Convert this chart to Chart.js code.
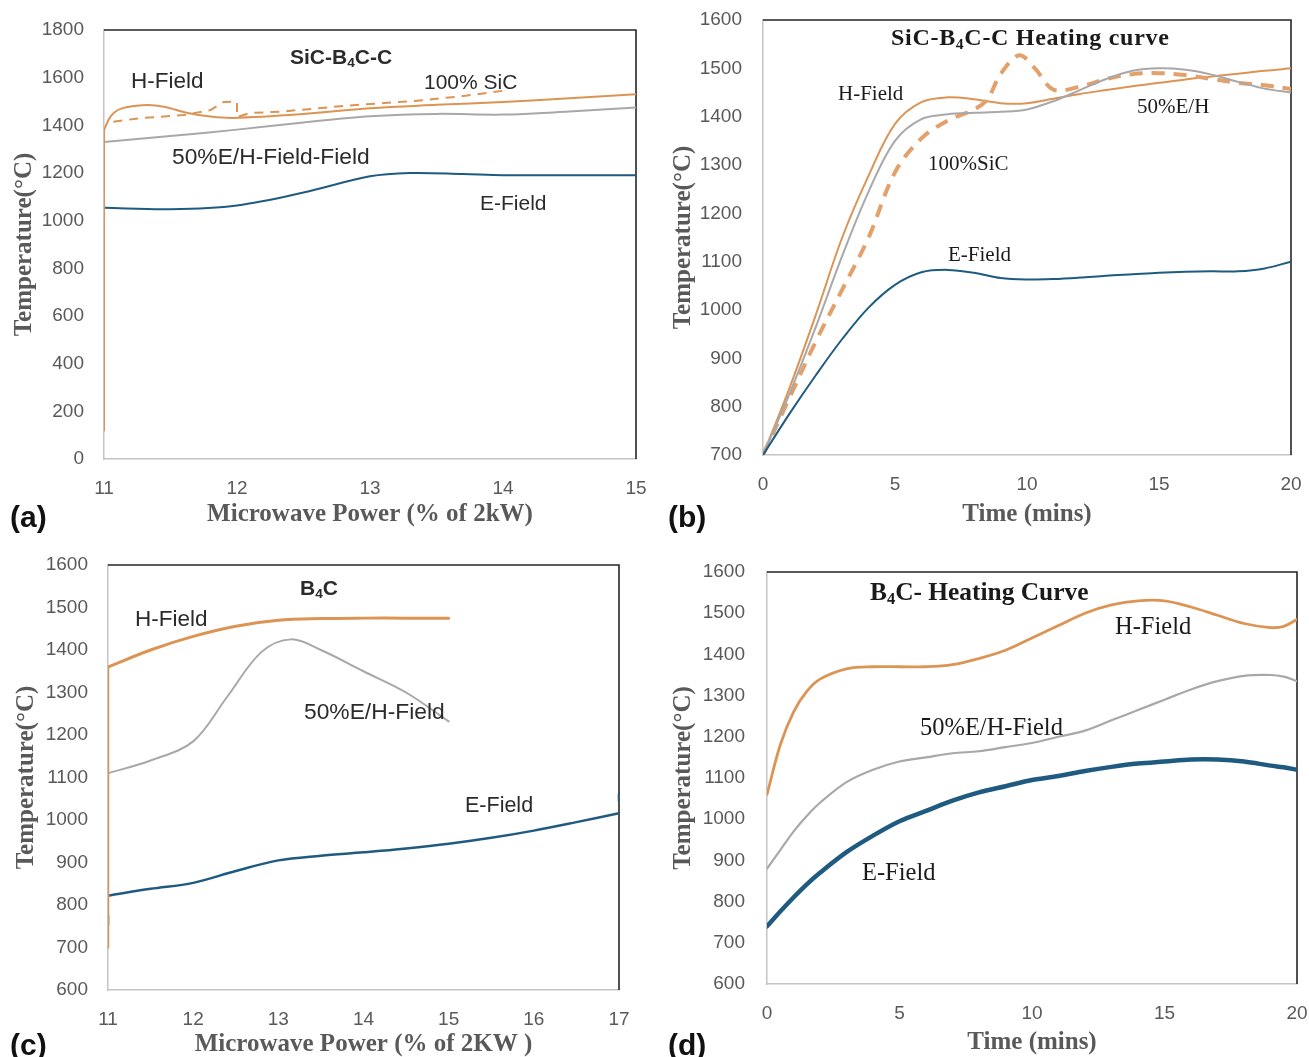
<!DOCTYPE html>
<html><head><meta charset="utf-8">
<script src="https://cdn.jsdelivr.net/npm/chart.js@4.4.1/dist/chart.umd.min.js"></script>
<style>
html,body{margin:0;padding:0;background:#fff}
body{width:1309px;height:1057px;position:relative;overflow:hidden}
canvas{position:absolute}
.t{position:absolute;white-space:nowrap;line-height:1;color:#2b2b2b}
.sans{font-family:"Liberation Sans",Arial,sans-serif;font-size:21px}
.serif{font-family:"Liberation Serif","Times New Roman",serif;font-size:21px;color:#1a1a1a}
.b{font-weight:bold}
.pl{position:absolute;line-height:1;font-family:"Liberation Sans",Arial,sans-serif;font-weight:bold;font-size:30px;color:#111}
sub{font-size:65%;vertical-align:-0.25em;line-height:0}
</style></head><body>
<canvas id="ca" width="655" height="530" style="left:0;top:0;width:655px;height:530px"></canvas>
<canvas id="cb" width="654" height="530" style="left:655px;top:0;width:654px;height:530px"></canvas>
<canvas id="cc" width="655" height="527" style="left:0;top:530px;width:655px;height:527px"></canvas>
<canvas id="cd" width="654" height="527" style="left:655px;top:530px;width:654px;height:527px"></canvas>

<div class="t sans b" style="left:290px;top:46px">SiC-B<sub>4</sub>C-C</div>
<div class="t sans" style="left:131px;top:70px;font-size:22.5px">H-Field</div>
<div class="t sans" style="left:424px;top:71px">100% SiC</div>
<div class="t sans" style="left:172px;top:145px;font-size:22.8px">50%E/H-Field-Field</div>
<div class="t sans" style="left:480px;top:192px">E-Field</div>
<div class="pl" style="left:10px;top:502px">(a)</div>

<div class="t serif b" style="left:891px;top:25px;font-size:24px;letter-spacing:0.7px">SiC-B<sub>4</sub>C-C Heating curve</div>
<div class="t serif" style="left:838px;top:83px">H-Field</div>
<div class="t serif" style="left:928px;top:153px">100%SiC</div>
<div class="t serif" style="left:1137px;top:96px">50%E/H</div>
<div class="t serif" style="left:948px;top:244px">E-Field</div>
<div class="pl" style="left:668px;top:502px">(b)</div>

<div class="t sans b" style="left:300px;top:577px">B<sub>4</sub>C</div>
<div class="t sans" style="left:135px;top:608px;font-size:22.5px">H-Field</div>
<div class="t sans" style="left:304px;top:700px;font-size:22.8px">50%E/H-Field</div>
<div class="t sans" style="left:465px;top:795px;font-size:21.5px">E-Field</div>
<div class="pl" style="left:10px;top:1030px">(c)</div>

<div class="t serif b" style="left:870px;top:579px;font-size:25.4px">B<sub>4</sub>C- Heating Curve</div>
<div class="t serif" style="left:1115px;top:614px;font-size:24.5px">H-Field</div>
<div class="t serif" style="left:920px;top:715px;font-size:24.5px">50%E/H-Field</div>
<div class="t serif" style="left:862px;top:860px;font-size:24.5px">E-Field</div>
<div class="pl" style="left:668px;top:1030px">(d)</div>

<script>
// ---------------- DATA ----------------
// (a) SiC-B4C-C vs microwave power (% of 2kW)
const aHRiseX = [11, 11];
const aHRiseY = [120, 1380];
const aHFieldX = [11, 11.05, 11.13, 11.32, 11.45, 11.63, 11.8, 11.97, 12.47, 13, 13.5, 14, 14.5, 15];
const aHFieldY = [1380, 1438, 1470, 1485, 1478, 1452, 1437, 1431, 1446, 1472, 1486, 1498, 1514, 1530];
const aSiCX = [11.07, 11.27, 11.6, 11.8, 11.9, 11.97, 12.0, 12.0, 12.1, 12.32, 12.82, 13.4, 13.73, 14.0];
const aSiCY = [1415, 1430, 1443, 1464, 1498, 1499, 1499, 1435, 1452, 1457, 1482, 1505, 1525, 1545];
const aMixX = [11, 11.5, 12, 12.5, 13, 13.5, 14, 14.5, 15];
const aMixY = [1330, 1355, 1382, 1412, 1438, 1448, 1445, 1458, 1475];
const aERiseX = [11, 11];
const aERiseY = [690, 1054];
const aEFieldX = [11, 11.5, 12, 12.5, 13, 13.3, 13.7, 14, 15];
const aEFieldY = [1054, 1048, 1064, 1118, 1186, 1200, 1196, 1191, 1191];

// (b) SiC-B4C-C heating curve, time (mins)
const bTime = [0, 1, 2, 3, 4, 5, 6, 7, 8, 9, 10, 11, 12, 13, 14, 15, 16, 17, 18, 19, 20];
const bHField = [700, 838, 990, 1150, 1278, 1385, 1430, 1440, 1436, 1428, 1428, 1437, 1447, 1455, 1463, 1470, 1477, 1483, 1489, 1495, 1500];
const bMix = [700, 826, 965, 1112, 1245, 1350, 1395, 1405, 1408, 1410, 1415, 1432, 1455, 1478, 1495, 1500, 1497, 1487, 1472, 1458, 1450];
const bEField = [700, 785, 865, 940, 1005, 1052, 1078, 1083, 1077, 1066, 1063, 1064, 1067, 1071, 1074, 1077, 1079, 1080, 1080, 1086, 1100];
const bSiCTime = [0, 1, 2, 3, 4, 5, 6, 7, 8, 8.5, 9, 9.7, 10.3, 11, 12, 13, 14, 15, 16, 17, 18, 19, 20];
const bSiC = [700, 818, 935, 1042, 1150, 1285, 1355, 1392, 1415, 1436, 1488, 1527, 1500, 1456, 1462, 1478, 1488, 1490, 1486, 1478, 1470, 1465, 1457];

// (c) B4C vs microwave power (% of 2KW)
const cHRiseX = [11, 11];
const cHRiseY = [700, 1360];
const cHFieldX = [11, 11.5, 12, 12.5, 13, 13.5, 14, 14.5, 15];
const cHFieldY = [1360, 1400, 1432, 1456, 1470, 1474, 1475, 1475, 1475];
const cMixX = [11, 11.5, 12, 12.4, 12.8, 13.15, 13.5, 14, 14.5, 15];
const cMixY = [1110, 1140, 1185, 1290, 1395, 1425, 1400, 1350, 1300, 1232];
const cETailX = [11, 11];
const cETailY = [755, 775];
const cEFieldX = [11, 11.5, 12, 12.5, 13, 13.5, 14, 14.5, 15, 15.5, 16, 16.5, 17];
const cEFieldY = [822, 838, 852, 880, 905, 916, 924, 933, 944, 958, 975, 995, 1016];
const cEEndX = [17, 17];
const cEEndY = [1045, 1062];

// (d) B4C heating curve, time (mins)
const dTime = [0, 0.5, 1, 1.5, 2, 3, 4, 5, 6, 7, 8, 9, 10, 11, 12, 13, 14, 15, 16, 17, 18, 19, 19.5, 20];
const dHField = [1060, 1180, 1260, 1310, 1340, 1365, 1370, 1370, 1370, 1375, 1390, 1410, 1440, 1470, 1500, 1520, 1530, 1530, 1515, 1495, 1475, 1465, 1468, 1485];
const dMix = [880, 925, 970, 1008, 1040, 1090, 1120, 1140, 1150, 1160, 1165, 1175, 1185, 1200, 1215, 1240, 1265, 1290, 1315, 1335, 1348, 1350, 1346, 1335];
const dEField = [740, 776, 810, 842, 870, 920, 960, 995, 1020, 1045, 1065, 1080, 1095, 1105, 1117, 1127, 1135, 1140, 1145, 1145, 1140, 1130, 1126, 1120];

// axis ranges
const aXRange = [11, 15], aYRange = [0, 1800];
const bXRange = [0, 20], bYRange = [700, 1600];
const cXRange = [11, 17], cYRange = [600, 1600];
const dXRange = [0, 20], dYRange = [600, 1600];

// ---------------- STYLE ----------------
const ORANGE = '#DC9455';
const ORANGE_D = '#E3A06A';
const BLUE = '#1F5B80';
const GRAY = '#A8A8A8';
const TICK = '#595959';

function pts(xs, ys) { return xs.map((x, i) => ({ x: x, y: ys[i] })); }
function line(xs, ys, color, width, extra) {
  return Object.assign({
    data: pts(xs, ys), borderColor: color, borderWidth: width, pointRadius: 0,
    fill: false, tension: 0, borderCapStyle: 'round', borderJoinStyle: 'round'
  }, extra || {});
}
const smooth = { tension: 0.35 };

const framePlugin = {
  id: 'frame',
  beforeDatasetsDraw(chart) {
    const { ctx, chartArea: a } = chart;
    ctx.save();
    ctx.strokeStyle = '#262626';
    ctx.lineWidth = 1.6;
    ctx.beginPath();
    ctx.moveTo(a.left, a.top);
    ctx.lineTo(a.right, a.top);
    ctx.lineTo(a.right, a.bottom);
    ctx.stroke();
    ctx.restore();
  }
};

function make(id, o) {
  return new Chart(document.getElementById(id), {
    type: 'line',
    data: { datasets: o.datasets },
    plugins: [framePlugin],
    options: {
      responsive: false, animation: false, events: [],
      layout: { padding: { left: 0, right: o.padRight, top: o.padTop, bottom: 0 } },
      plugins: { legend: { display: false }, tooltip: { enabled: false } },
      scales: {
        x: {
          type: 'linear', min: o.xRange[0], max: o.xRange[1],
          afterFit: s => { s.height = o.xHeight; s.paddingLeft = 0; s.paddingRight = 0; },
          grid: { display: false, drawTicks: false },
          border: { display: true, color: '#C4C4C4', width: 1.5 },
          ticks: { stepSize: o.xStep, padding: 18, color: TICK, maxRotation: 0,
                   font: { family: 'Liberation Sans', size: 19 }, callback: v => String(v) },
          title: { display: true, text: o.xTitle, color: TICK, padding: { top: 0, bottom: o.xTitlePad },
                   font: { family: 'Liberation Serif', size: 25, weight: 'bold', lineHeight: 1 } }
        },
        y: {
          type: 'linear', min: o.yRange[0], max: o.yRange[1],
          afterFit: s => { s.width = o.yWidth; s.paddingTop = 0; s.paddingBottom = 0; },
          grid: { display: false, drawTicks: false },
          border: { display: true, color: '#C4C4C4', width: 1.5 },
          ticks: { stepSize: o.yStep, padding: o.yTickPad, color: TICK,
                   font: { family: 'Liberation Sans', size: 19 }, callback: v => String(v) },
          title: { display: true, text: 'Temperature(°C)', color: TICK, padding: { top: o.yTitlePad, bottom: 0 },
                   font: { family: 'Liberation Serif', size: 25, weight: 'bold', lineHeight: 1 } }
        }
      }
    }
  });
}

make('ca', {
  xRange: aXRange, xStep: 1, yRange: aYRange, yStep: 200,
  yWidth: 104, xHeight: 71, padTop: 30, padRight: 19, yTickPad: 20, yTitlePad: 12, xTitlePad: 3,
  xTitle: 'Microwave Power (% of 2kW)',
  datasets: [
    line(aHRiseX, aHRiseY, ORANGE, 2),
    line(aERiseX, aERiseY, BLUE, 2),
    line(aMixX, aMixY, GRAY, 2, smooth),
    line(aEFieldX, aEFieldY, BLUE, 2, smooth),
    line(aHFieldX, aHFieldY, ORANGE, 2, smooth),
    line(aSiCX, aSiCY, ORANGE, 2, { borderDash: [9, 7], borderCapStyle: 'butt' })
  ]
});

make('cb', {
  xRange: bXRange, xStep: 5, yRange: bYRange, yStep: 100,
  yWidth: 108, xHeight: 75, padTop: 20, padRight: 18, yTickPad: 21, yTitlePad: 16, xTitlePad: 3,
  xTitle: 'Time (mins)',
  datasets: [
    line(bTime, bEField, BLUE, 2, smooth),
    line(bTime, bMix, GRAY, 2, smooth),
    line(bSiCTime, bSiC, ORANGE_D, 4, Object.assign({ borderDash: [13, 9], borderCapStyle: 'butt' }, smooth)),
    line(bTime, bHField, ORANGE, 2, smooth)
  ]
});

make('cc', {
  xRange: cXRange, xStep: 1, yRange: cYRange, yStep: 100,
  yWidth: 108, xHeight: 67, padTop: 35, padRight: 36, yTickPad: 20, yTitlePad: 14, xTitlePad: 0,
  xTitle: 'Microwave Power (% of 2KW )',
  datasets: [
    line(cHRiseX, cHRiseY, ORANGE, 2.5),
    line(cETailX, cETailY, BLUE, 2.5),
    line(cEEndX, cEEndY, BLUE, 2.5),
    line(cMixX, cMixY, GRAY, 2, smooth),
    line(cEFieldX, cEFieldY, BLUE, 2.5, smooth),
    line(cHFieldX, cHFieldY, ORANGE, 3, smooth)
  ]
});

make('cd', {
  xRange: dXRange, xStep: 5, yRange: dYRange, yStep: 100,
  yWidth: 112, xHeight: 73, padTop: 42, padRight: 12, yTickPad: 22, yTitlePad: 16, xTitlePad: 2,
  xTitle: 'Time (mins)',
  datasets: [
    line(dTime, dMix, GRAY, 2.2, smooth),
    line(dTime, dEField, BLUE, 4.5, smooth),
    line(dTime, dHField, ORANGE, 2.8, smooth)
  ]
});
</script>
</body></html>
